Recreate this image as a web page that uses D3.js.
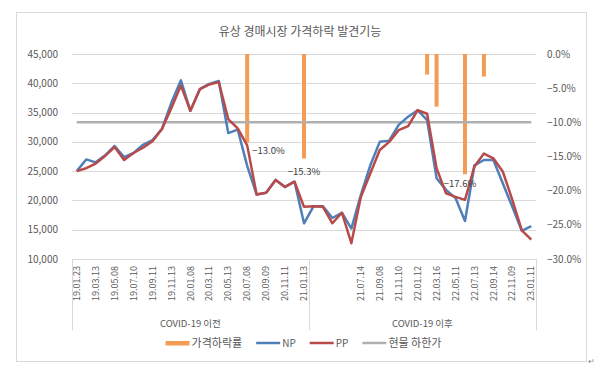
<!DOCTYPE html>
<html>
<head>
<meta charset="utf-8">
<script src="https://cdn.jsdelivr.net/npm/d3@7"></script>
<style>
  body { margin: 0; background: #fff; }
  text { font-family: "Noto Sans CJK KR", "Noto Sans", sans-serif; fill: #595959; }
</style>
</head>
<body>
<svg id="chart" width="600" height="377"></svg>
<script>
// 가격 (원) - NP / PP
var np = [25000, 27000, 26500, 27700, 29300, 27400, 28100, 29500, 30300, 32200,
  36700, 40500, 35300, 39000, 39900, 40400, 31500, 32100, 25900, 21000,
  21300, 23500, 22300, 23200, 16100, 19000, 19000, 17000, 17900, 15200,
  20900, 26000, 30000, 30200, 32900, 34300, 35400, 33700, 23800, 21800,
  20400, 16500, 26000, 26900, 26900, 22900, 18900, 14800, 15600]
var pp = [25000, 25500, 26300, 27600, 29100, 26900, 28100, 29000, 30100, 32200,
  35800, 39600, 35300, 39000, 39800, 40200, 33900, 32300, 29400, 21000,
  21300, 23500, 22300, 23200, 18900, 19000, 18900, 16100, 17900, 12700,
  20600, 24600, 28600, 30000, 32000, 32700, 35400, 34800, 25500, 21200,
  20600, 20100, 25800, 28000, 27200, 24900, 20100, 14900, 13300]
// 가격하락률 (보조축)
var dropRate = [null, null, null, null, null, null, null, null, null, null,
  null, null, null, null, null, null, null, null, -0.130, null,
  null, null, null, null, -0.153, null, null, null, null, null,
  null, null, null, null, null, null, null, -0.030, -0.077, null,
  null, -0.176, null, -0.033, null, null, null, null, null]
var labeledDrops = [18, 24, 41]
// 현물 하한가
var floorRate = -0.10
// 레이블 (2개 간격)
var tickLabels = ["19.01.23", "19.03.13", "19.05.08", "19.07.10", "19.09.11", "19.11.13",
  "20.01.08", "20.03.11", "20.05.13", "20.07.08", "20.09.09", "20.11.11", "21.01.13",
  "", "", "21.07.14", "21.09.08", "21.11.10", "22.01.12", "22.03.16", "22.05.11",
  "22.07.13", "22.09.14", "22.11.09", "23.01.11"]
var groups = [{name: "COVID-19 이전", size: 25}, {name: "COVID-19 이후", size: 24}]
var leftTicks = [10000, 15000, 20000, 25000, 30000, 35000, 40000, 45000]
var rightTicks = [0, -0.05, -0.10, -0.15, -0.20, -0.25, -0.30]

var colors = {drop: "#F59C54", np: "#4F7FB8", pp: "#B94A4A", floor: "#B0B0B0", grid: "#D9D9D9"}

var svg = d3.select("#chart")
var n = np.length
var plotL = 72, plotR = 536, plotT = 54, plotB = 259

var x = d3.scaleBand().domain(d3.range(n)).range([plotL, plotR]).padding(0)
var cx = i => x(i) + x.bandwidth() / 2
var y = d3.scaleLinear().domain([10000, 45000]).range([plotB, plotT])
var y2 = d3.scaleLinear().domain([-0.30, 0]).range([plotB, plotT])

// frame
svg.append("rect").attr("x", 16.5).attr("y", 12.5).attr("width", 570).attr("height", 349)
  .attr("fill", "#fff").attr("stroke", "#D9D9D9")

svg.append("text").attr("x", 300).attr("y", 32).attr("dy", "0.35em").attr("text-anchor", "middle")
  .style("font-size", "12px").text("유상 경매시장 가격하락 발견기능")

// gridlines
svg.append("g").selectAll("line").data(leftTicks).join("line")
  .attr("x1", plotL).attr("x2", plotR)
  .attr("y1", d => Math.round(y(d)) + 0.5).attr("y2", d => Math.round(y(d)) + 0.5)
  .attr("stroke", colors.grid)

svg.append("g").selectAll("text").data(leftTicks).join("text")
  .attr("x", 58).attr("y", d => y(d)).attr("dy", "0.35em").attr("text-anchor", "end")
  .style("font-size", "10px").text(d3.format(","))

svg.append("g").selectAll("text").data(rightTicks).join("text")
  .attr("x", 547).attr("y", d => y2(d)).attr("dy", "0.35em")
  .style("font-size", "10px").text(d => d3.format(".1f")(d * 100) + "%")

// category axis
var cat = svg.append("g")
cat.selectAll("text").data(tickLabels).join("text")
  .attr("transform", (d, i) => "translate(" + cx(i * 2) + ",266) rotate(-90)")
  .attr("dy", "0.35em").attr("text-anchor", "end")
  .style("font-size", "9px").text(d => d)

var bounds = [0]
groups.forEach(g => bounds.push(bounds[bounds.length - 1] + g.size))
var bx = b => b < n ? x(b) : plotR
cat.selectAll("line").data(bounds).join("line")
  .attr("x1", d => Math.round(bx(d)) + 0.5).attr("x2", d => Math.round(bx(d)) + 0.5)
  .attr("y1", plotB).attr("y2", 330).attr("stroke", colors.grid)
cat.selectAll("text.grp").data(groups).join("text").attr("class", "grp")
  .attr("x", (g, i) => (bx(bounds[i]) + bx(bounds[i + 1])) / 2)
  .attr("y", 324).attr("dy", "0.35em").attr("text-anchor", "middle")
  .style("font-size", "9.5px").text(g => g.name)

// bars
var drops = dropRate.map((v, i) => ({i: i, v: v})).filter(d => d.v != null)
svg.append("g").selectAll("rect").data(drops).join("rect")
  .attr("x", d => cx(d.i) - 2).attr("width", 4)
  .attr("y", y2(0)).attr("height", d => y2(d.v) - y2(0))
  .attr("fill", colors.drop)

// floor line
svg.append("line").attr("x1", cx(0)).attr("x2", cx(n - 1))
  .attr("y1", y2(floorRate)).attr("y2", y2(floorRate))
  .attr("stroke", colors.floor).attr("stroke-width", 2.5)

var line = d3.line().x((d, i) => cx(i)).y(d => y(d))
svg.append("path").datum(np).attr("d", line).attr("fill", "none")
  .attr("stroke", colors.np).attr("stroke-width", 2.5).attr("stroke-linejoin", "round")
svg.append("path").datum(pp).attr("d", line).attr("fill", "none")
  .attr("stroke", colors.pp).attr("stroke-width", 2.5).attr("stroke-linejoin", "round")

// data labels (moved by hand like the original)
var nudge = {18: [5, 8, "start"], 24: [0, 13, "middle"], 41: [-5, 9, "middle"]}
svg.append("g").selectAll("text").data(drops.filter(d => labeledDrops.includes(d.i))).join("text")
  .attr("x", d => cx(d.i) + nudge[d.i][0]).attr("y", d => y2(d.v) + nudge[d.i][1])
  .attr("dy", "0.35em").attr("text-anchor", d => nudge[d.i][2])
  .style("font-size", "9.5px").style("fill", "#404040")
  .text(d => d3.format(".1f")(d.v * 100) + "%")

// legend
var legendItems = [
  {name: "가격하락률", type: "rect", color: colors.drop},
  {name: "NP", type: "line", color: colors.np},
  {name: "PP", type: "line", color: colors.pp},
  {name: "현물 하한가", type: "line", color: colors.floor}
]
var legend = svg.append("g")
var lx = 0
legendItems.forEach(it => {
  var g = legend.append("g").attr("transform", "translate(" + lx + ",0)")
  if (it.type == "rect")
    g.append("rect").attr("x", 0).attr("y", -2).attr("width", 24).attr("height", 4.5).attr("fill", it.color)
  else
    g.append("line").attr("x1", 0).attr("x2", 24).attr("y1", 0).attr("y2", 0)
      .attr("stroke", it.color).attr("stroke-width", 2.5)
  var t = g.append("text").attr("x", 26).attr("y", 0).attr("dy", "0.35em")
    .style("font-size", it.name.length > 2 ? "11px" : "10px").text(it.name)
  lx += 26 + t.node().getComputedTextLength() + 14
})
var lw = lx - 14
legend.attr("transform", "translate(" + (303.5 - lw / 2) + ",343)")

svg.append("text").attr("x", 588).attr("y", 364).style("font-size", "8px").style("fill", "#888").text("↵")
</script>
</body>
</html>
